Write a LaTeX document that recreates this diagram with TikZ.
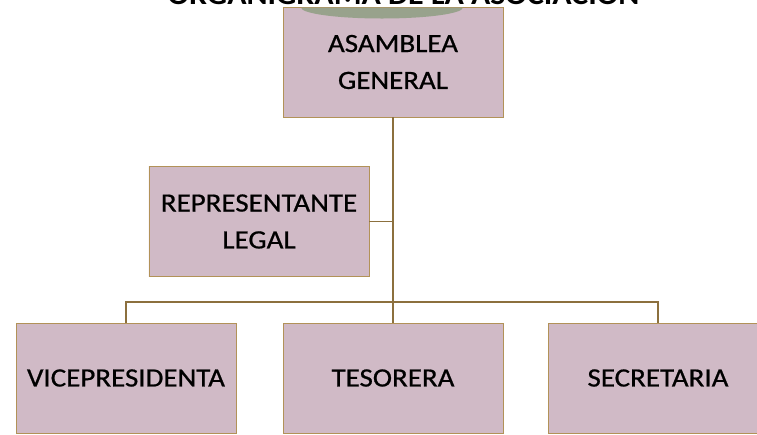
\documentclass[tikz,border=0pt]{standalone}
\usepackage{fontspec}
\setmainfont{Carlito}[FakeStretch=1.1]
\newfontfamily\boxfont{Carlito}[FakeStretch=1.1, FakeBold=0.7]
\tikzset{
  org-box/.style={
    rectangle,
    draw=boxedge,
    line width=0.5pt,
    top color=boxtop,
    middle color=boxmid,
    bottom color=boxtop,
    minimum width=4.4cm,
    minimum height=2.2cm,
    inner sep=0pt,
    align=center,
    font=\boxfont\fontsize{15}{21}\selectfont
  },
  org-link/.style={draw=linkbrown, line width=0.7pt},
  org-title/.style={anchor=base, inner sep=0pt, font=\bfseries\fontsize{16.5}{18}\selectfont}
}
\definecolor{boxtop}{RGB}{208,186,198}
\definecolor{boxmid}{RGB}{196,178,188}
\definecolor{boxedge}{RGB}{178,146,88}
\definecolor{linkbrown}{RGB}{140,112,62}
\definecolor{capgreen}{RGB}{152,162,140}

\begin{document}
\begin{tikzpicture}
  \useasboundingbox (0,0) rectangle (15.14,-8.68);

  % --- Title (cut by the top edge) ---
  \node[org-title] (title) at (8.07,-0.08) {ORGANIGRAMA DE LA ASOCIACIÓN};

  % --- Top level ---
  \node[org-box] (asamblea) at (7.86,-1.24) {ASAMBLEA\\GENERAL};
  \fill[capgreen] (6.02,-0.15) arc[start angle=180, end angle=360, x radius=1.62, y radius=0.22];

  % --- Second level ---
  \node[org-box] (representante) at (5.18,-4.43) {REPRESENTANTE\\LEGAL};

  % --- Third level ---
  \node[org-box] (vicepresidenta) at (2.52,-7.56) {VICEPRESIDENTA};
  \node[org-box] (tesorera) at (7.86,-7.56) {TESORERA};
  \node[org-box] (secretaria) at (13.16,-7.56) {SECRETARIA};

  % --- Connectors ---
  \coordinate (bus) at (7.86,-6.04);
  \draw[org-link] (asamblea.south) -- (tesorera.north);
  \draw[org-link] (representante.east) -- (representante.east -| asamblea.south);
  \draw[org-link] (vicepresidenta.north) |- (bus) -| (secretaria.north);
\end{tikzpicture}
\end{document}
